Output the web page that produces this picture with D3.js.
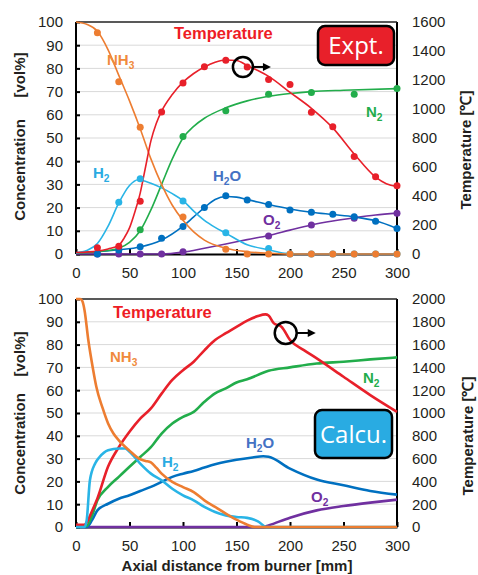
<!DOCTYPE html>
<html>
<head>
<meta charset="utf-8">
<script src="https://cdn.jsdelivr.net/npm/d3@7"></script>
<style>
  body { margin: 0; background: #fff; }
  text { font-family: "Liberation Sans", Arial, sans-serif; }
</style>
</head>
<body>
<svg class="viz" width="478" height="575"></svg>
<script>
// ---- data ----
var xTicks = [0, 50, 100, 150, 200, 250, 300];
var concTicks = [0, 10, 20, 30, 40, 50, 60, 70, 80, 90, 100];
var tempTicksTop = [0, 200, 400, 600, 800, 1000, 1200, 1400, 1600];
var tempTicksBot = [0, 200, 400, 600, 800, 1000, 1200, 1400, 1600, 1800, 2000];

// experiment: measured points
var exptX    = [20, 40, 60, 80, 100, 120, 140, 160, 180, 200, 220, 240, 260, 280, 300];
var exptNH3  = [95.4, 74.2, 54.6, null, 16, null, 2.1, 0, 0, 0, 0, 0, 0, 0, 0];
var exptH2   = [null, 22.3, 32.4, null, 22.8, null, 9.2, null, 2.4, 0, 0, 0, 0, 0, 0];
var exptN2   = [null, null, 10.5, null, 50.7, null, 61.7, null, 68.9, null, 69.6, null, 68.9, null, 71.3];
var exptH2O  = [0, 1.7, 3.1, 6.8, 11.8, 20, 25.1, 23.3, 21.3, 19, 18, 17.1, 16.1, 14.1, 11];
var exptO2   = [0, 0, 0, 0, 1, null, null, null, 7.8, null, 12.5, null, 15.4, null, 17.6];
var exptTemp = [43, 54, 364, 980, 1180, 1291, 1337, 1289, 1203, 1169, 977, 878, 673, 533, 470];

// experiment: fitted curves [x, value]
var fitNH3 = [[0,100],[10,99],[20,96],[30,88],[40,77],[50,66],[60,54],[70,41],[80,30],[90,21],[100,14.5],[110,9.5],[120,6],[140,2.5],[160,1],[180,0.3],[200,0],[300,0]];
var fitH2  = [[0,0.5],[10,1.5],[20,4.5],[30,12],[40,22],[50,29.5],[58,32],[70,30.5],[80,28.5],[90,26],[100,23],[110,18.5],[120,14.5],[130,11.5],[140,9],[160,4],[180,1.8],[195,0.3],[210,0],[300,0]];
var fitN2  = [[0,0.5],[20,1],[40,2.5],[50,5],[60,10],[70,19],[80,30],[90,41],[100,50],[110,55],[120,58.5],[140,63],[160,66],[180,68],[200,69.2],[220,70],[250,70.6],[300,71.3]];
var fitH2O = [[0,0.5],[20,1],[40,1.8],[60,3],[80,6],[100,12],[110,16],[120,20],[130,23.5],[140,24.8],[150,24.5],[160,23.5],[180,21.3],[200,19.4],[220,18],[240,17],[260,16],[280,14.3],[300,11]];
var fitO2  = [[0,0],[80,0],[100,0.8],[120,2.5],[140,4.3],[160,6.2],[180,8],[200,10.3],[220,12.5],[240,14.2],[260,15.6],[280,16.8],[300,17.6]];
var fitTemp = [[0,10],[20,20],[30,35],[40,60],[45,110],[50,180],[55,290],[60,420],[65,600],[70,780],[75,900],[80,985],[90,1100],[100,1185],[110,1245],[120,1290],[130,1322],[140,1338],[150,1335],[160,1300],[170,1265],[180,1225],[200,1115],[220,1005],[240,870],[260,690],[280,530],[290,485],[300,465]];

// calculation curves [x, value]
var calcNH3 = [[0,100],[4,100],[6,99],[8,95],[11.5,82],[16,69],[19,61.5],[25,52],[30,45.4],[35,41],[40,38],[50,33.5],[60,29.7],[65,29],[70,28.3],[75,26],[80,23.4],[90,19.8],[100,17.5],[110,15.3],[120,11.7],[130,8.8],[140,5.9],[150,3.2],[160,1],[167,0],[300,0]];
var calcH2  = [[0,0],[8,0],[10,3],[13,20.5],[18,28],[22,30.7],[30,33.7],[40,34.4],[46,34.4],[50,33],[60,27.8],[70,23.4],[80,20.5],[90,16.8],[100,13.9],[110,11.7],[120,8.8],[130,6.6],[140,5.1],[150,4.4],[160,4],[170,2.5],[178,0],[300,0]];
var calcN2  = [[0,0],[10,0.5],[15,5],[20,11.7],[30,17.6],[40,22],[50,26.4],[60,30.7],[70,35],[80,41],[90,45.4],[100,48.3],[110,50.5],[120,54.9],[130,58.6],[140,60.8],[150,63.4],[160,64.8],[180,68.5],[200,70],[225,71.7],[250,72.5],[275,73.5],[300,74.4]];
var calcH2O = [[0,0],[10,0],[15,3],[20,7.3],[30,10.2],[40,12.4],[50,13.9],[60,15.8],[70,17.6],[80,19.8],[90,22],[100,23.4],[110,24.6],[120,26.1],[130,27.5],[140,28.6],[150,29.5],[165,30.5],[175,31],[180,30.8],[200,25.6],[225,20.8],[250,18.3],[275,15.8],[300,14.2]];
var calcO2  = [[0,0],[175,0],[180,0.7],[200,4.1],[225,7.3],[250,9.2],[275,10.7],[300,12]];
var calcTemp = [[0,20],[8,20],[10,40],[15,140],[20,250],[30,530],[40,700],[50,835],[60,950],[70,1040],[80,1170],[90,1290],[100,1375],[110,1450],[120,1550],[130,1640],[140,1700],[150,1756],[160,1810],[170,1850],[177,1865],[180,1855],[185,1786],[192,1757],[200,1640],[213,1552],[225,1479],[250,1318],[275,1157],[300,1010]];

var col = {
  NH3: "#ED7D31", H2: "#29B4E6", N2: "#22AD4B", H2O: "#0070C0", O2: "#7030A0", T: "#E8202A"
};

var svg = d3.select(".viz");
var left = 76, right = 397;

var x = d3.scaleLinear().domain([0, 300]).range([left, right]);

// ---- one panel ----
var panel = function(top, bottom, tMax, tTicks) {
  var y = d3.scaleLinear().domain([0, 100]).range([bottom, top]);
  var yT = d3.scaleLinear().domain([0, tMax]).range([bottom, top]);
  var g = svg.append("g");

  // gridlines
  g.selectAll(".grid").data(concTicks.slice(1, -1)).enter().append("line")
    .attr("x1", left).attr("x2", right)
    .attr("y1", function(d) { return y(d); }).attr("y2", function(d) { return y(d); })
    .style("stroke", "#d9d9d9").style("stroke-width", "1px");

  var ax = g.append("g").attr("transform", "translate(0," + bottom + ")")
    .call(d3.axisBottom(x).tickValues(xTicks).tickSizeInner(-5).tickSizeOuter(0).tickPadding(13));
  var ay = g.append("g").attr("transform", "translate(" + left + ",0)")
    .call(d3.axisLeft(y).tickValues(concTicks).tickSizeInner(-4).tickSizeOuter(0).tickPadding(13));
  var ar = g.append("g").attr("transform", "translate(" + right + ",0)")
    .call(d3.axisRight(yT).tickValues(tTicks).tickFormat(d3.format("d")).tickSize(0).tickPadding(15));
  [ax, ay, ar].forEach(function(a) {
    a.selectAll("path, line").style("stroke", "#000").style("stroke-width", "2px");
    a.selectAll("text").style("font-size", "15px").style("fill", "#231f20")
      .style("font-family", "Liberation Sans, Arial, sans-serif");
  });
  ay.select(".domain").remove();
  ar.select(".domain").remove();
  g.append("line").attr("x1", left).attr("x2", left).attr("y1", top).attr("y2", bottom)
    .style("stroke", "#000").style("stroke-width", "2px");
  g.append("line").attr("x1", right).attr("x2", right).attr("y1", top).attr("y2", bottom)
    .style("stroke", "#000").style("stroke-width", "2px");
  g.append("line").attr("x1", left).attr("x2", right).attr("y1", top).attr("y2", top)
    .style("stroke", "#222").style("stroke-width", "1.5px");

  return { g: g, y: y, yT: yT };
};

var drawLine = function(g, pts, scale, color, w) {
  var line = d3.line()
    .x(function(d) { return x(d[0]); })
    .y(function(d) { return scale(d[1]); })
    .curve(d3.curveMonotoneX);
  g.append("path").datum(pts).attr("d", line)
    .style("fill", "none").style("stroke", color).style("stroke-width", w + "px")
    .style("stroke-linejoin", "round");
};

var drawDots = function(g, vals, scale, color) {
  var pts = exptX.map(function(v, i) { return [v, vals[i]]; })
    .filter(function(d) { return d[1] !== null; });
  g.selectAll(null).data(pts).enter().append("circle")
    .attr("cx", function(d) { return x(d[0]); })
    .attr("cy", function(d) { return scale(d[1]); })
    .attr("r", 3.5)
    .attr("fill", color);
};

var label = function(txt, sub, after, px, py, color, size) {
  var t = svg.append("text").attr("x", px).attr("y", py)
    .style("font-size", size + "px").style("font-weight", "bold").style("fill", color);
  t.append("tspan").text(txt);
  if (sub) {
    t.append("tspan").text(sub).attr("dy", 4).style("font-size", (size * 0.68) + "px");
    if (after) t.append("tspan").text(after).attr("dy", -4);
  }
};

var circleArrow = function(cx, cy, r, len) {
  svg.append("circle").attr("cx", cx).attr("cy", cy).attr("r", r)
    .style("fill", "none").style("stroke", "#000").style("stroke-width", "2.5px");
  svg.append("line").attr("x1", cx + r).attr("x2", cx + r + len - 6).attr("y1", cy).attr("y2", cy)
    .style("stroke", "#000").style("stroke-width", "2px");
  svg.append("path")
    .attr("d", "M" + (cx + r + len) + "," + cy + "L" + (cx + r + len - 8) + "," + (cy - 4) + "L" + (cx + r + len - 8) + "," + (cy + 4) + "Z")
    .style("fill", "#000");
};

var tag = function(txt, x0, y0, w, h, fill, size) {
  svg.append("rect").attr("x", x0).attr("y", y0).attr("width", w).attr("height", h)
    .attr("rx", 7).style("fill", fill).style("stroke", "#000").style("stroke-width", "2.5px");
  svg.append("text").attr("x", x0 + w / 2).attr("y", y0 + h / 2 + size * 0.36)
    .attr("text-anchor", "middle").text(txt)
    .style("font-family", "Open Sans, Noto Sans, sans-serif")
    .style("font-size", size + "px").style("fill", "#fff");
};

// ---- top panel: experiment ----
var p1 = panel(22, 254, 1600, tempTicksTop);
drawLine(p1.g, fitO2, p1.y, col.O2, 1.6);
drawLine(p1.g, fitH2O, p1.y, col.H2O, 1.6);
drawLine(p1.g, fitN2, p1.y, col.N2, 1.6);
drawLine(p1.g, fitH2, p1.y, col.H2, 1.6);
drawLine(p1.g, fitNH3, p1.y, col.NH3, 1.6);
drawLine(p1.g, fitTemp, p1.yT, col.T, 1.6);
drawDots(p1.g, exptO2, p1.y, col.O2);
drawDots(p1.g, exptH2O, p1.y, col.H2O);
drawDots(p1.g, exptN2, p1.y, col.N2);
drawDots(p1.g, exptH2, p1.y, col.H2);
drawDots(p1.g, exptNH3, p1.y, col.NH3);
drawDots(p1.g, exptTemp, p1.yT, col.T);

// ---- bottom panel: calculation ----
var p2 = panel(299, 527, 2000, tempTicksBot);
drawLine(p2.g, calcO2, p2.y, col.O2, 2.6);
drawLine(p2.g, calcH2O, p2.y, col.H2O, 2.6);
drawLine(p2.g, calcN2, p2.y, col.N2, 2.6);
drawLine(p2.g, calcTemp, p2.yT, col.T, 2.6);
drawLine(p2.g, calcH2, p2.y, col.H2, 2.6);
drawLine(p2.g, calcNH3, p2.y, col.NH3, 2.6);

// ---- annotations ----
label("Temperature", null, null, 174, 39, "#EE1C25", 16.5);
label("NH", "3", null, 107, 65, "#F08A3C", 15);
label("N", "2", null, 366, 117, "#22AD4B", 15);
label("H", "2", null, 93, 178, "#29ABE2", 15);
label("H", "2", "O", 213, 181, "#4472C4", 15);
label("O", "2", null, 263, 225, "#7030A0", 15);

label("Temperature", null, null, 113, 318, "#EE1C25", 16.5);
label("NH", "3", null, 110, 362, "#F08A3C", 15);
label("H", "2", null, 162, 467, "#29ABE2", 15);
label("N", "2", null, 363, 383, "#22AD4B", 15);
label("H", "2", "O", 246, 448, "#4472C4", 15);
label("O", "2", null, 311, 502, "#7030A0", 15);

tag("Expt.", 318, 26, 76, 39, "#E8202A", 24);
tag("Calcu.", 315, 410, 77, 48, "#29ABE2", 24);

circleArrow(x(156), p1.yT(1290), 10, 18);
circleArrow(x(196), p2.yT(1702), 11, 19);

// ---- axis titles ----
var vTitle = function(txt, cx, cy) {
  svg.append("text").attr("transform", "translate(" + cx + "," + cy + ") rotate(-90)")
    .attr("text-anchor", "middle").text(txt)
    .style("font-size", "15px").style("font-weight", "bold").style("fill", "#231f20");
};
vTitle("Concentration", 25, 170);
vTitle("[vol%]", 25, 75);
vTitle("Concentration", 25, 444);
vTitle("[vol%]", 25, 354);
vTitle("Temperature [℃]", 471, 150);
vTitle("Temperature [℃]", 473, 436);

svg.append("text").attr("x", 237).attr("y", 571).attr("text-anchor", "middle")
  .text("Axial distance from burner [mm]")
  .style("font-size", "15px").style("font-weight", "bold").style("fill", "#231f20");
</script>
</body>
</html>
